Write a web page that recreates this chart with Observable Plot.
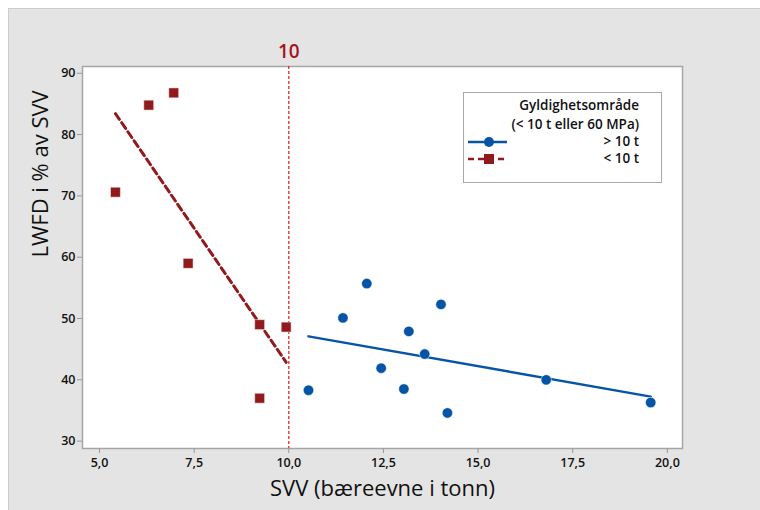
<!DOCTYPE html>
<html><head><meta charset="utf-8">
<script src="https://cdn.jsdelivr.net/npm/d3@7"></script>
<script src="https://cdn.jsdelivr.net/npm/@observablehq/plot@0.6"></script>
<style>
body{margin:0;background:#fff;font-family:"Open Sans",sans-serif;}
#bg{position:absolute;left:8px;top:8px;width:752px;height:502px;background:#e4e4e4;border-left:1px solid #cdcdcd;border-top:1px solid #cdcdcd;box-sizing:border-box;}
#chart{position:absolute;left:0;top:0;}
#legend{position:absolute;left:463px;top:92px;}
</style></head><body>
<div id="bg"></div><div id="chart"></div><div id="legend"></div>
<script>
// < 10 t series
const lowX = [5.42, 6.30, 6.96, 7.34, 9.23, 9.93, 9.23];
const lowY = [70.6, 84.8, 86.8, 59.0, 49.0, 48.6, 37.0];
// > 10 t series
const highX = [10.52, 11.43, 12.06, 12.44, 13.04, 13.17, 13.59, 14.02, 14.19, 16.80, 19.56];
const highY = [38.3, 50.1, 55.7, 41.9, 38.5, 47.9, 44.2, 52.3, 34.6, 40.0, 36.3];
const xTicks = [5, 7.5, 10, 12.5, 15, 17.5, 20];
const yTicks = [30, 40, 50, 60, 70, 80, 90];
const threshold = [10];
const legendTitle = ["Gyldighetsområde", "(< 10 t eller 60 MPa)"];
const legendLabels = ["> 10 t", "< 10 t"];
const xLabel = "SVV (bæreevne i tonn)";
const yLabel = "LWFD i % av SVV";

const blue = "#0654a6", red = "#911a1c", refRed = "#e3141c";
const low = lowX.map((x, i) => ({x, y: lowY[i]}));
const high = highX.map((x, i) => ({x, y: highY[i]}));
const fmt = d => d3.format(".1f")(d).replace(".", ",");

const chart = Plot.plot({
  width: 760, height: 510,
  marginLeft: 82, marginRight: 78, marginTop: 66, marginBottom: 62,
  style: {background: "transparent", fontFamily: "'Open Sans', sans-serif", fontSize: "13px", color: "#000"},
  x: {domain: [4.55, 20.4], label: null},
  y: {domain: [28.8, 91.1], label: null},
  marks: [
    Plot.frame({fill: "white", stroke: "#a6a6a6", strokeWidth: 1.5}),
    Plot.axisX({ticks: xTicks, tickFormat: fmt, stroke: "#999", tickSize: 5, tickPadding: 5, label: null, fill: "#111", fontWeight: 600, fontSize: 12.5}),
    Plot.axisY({ticks: yTicks, stroke: "#999", tickSize: 5, tickPadding: 2, label: null, fill: "#111", fontWeight: 600, fontSize: 12.5}),
    Plot.ruleX(threshold, {stroke: refRed, strokeWidth: 1.2, strokeDasharray: "3,2"}),
    Plot.text(threshold, {x: d => d, frameAnchor: "top", dy: -22, text: d => String(d), fill: "#a8141d", fontSize: 19, fontWeight: 600}),
    Plot.linearRegressionY(low, {x: "x", y: "y", ci: 0, stroke: red, strokeWidth: 3, strokeDasharray: "7,4"}),
    Plot.linearRegressionY(high, {x: "x", y: "y", ci: 0, stroke: blue, strokeWidth: 2.5}),
    Plot.dot(low, {x: "x", y: "y", symbol: "square", r: 5.6, fill: red, stroke: "white", strokeWidth: 0.5}),
    Plot.dot(high, {x: "x", y: "y", symbol: "circle", r: 5.2, fill: blue, stroke: "white", strokeWidth: 0.5}),
    Plot.text([xLabel], {frameAnchor: "bottom", dy: 47, text: d => d, fontSize: 22, fill: "#111"}),
    Plot.text([yLabel], {frameAnchor: "left", dx: -42, rotate: -90, text: d => d, fontSize: 22, fill: "#111"})
  ]
});
document.getElementById("chart").appendChild(chart);

// legend
const W = 199, H = 91;
const lg = d3.select("#legend").append("svg").attr("width", W).attr("height", H)
  .style("font-family", "'Open Sans', sans-serif").style("font-size", "13.5px");
lg.append("rect").attr("x", 0.5).attr("y", 0.5).attr("width", W - 1).attr("height", H - 1)
  .attr("fill", "white").attr("stroke", "#a8a8a8");
legendTitle.forEach((t, i) => lg.append("text").attr("x", 176).attr("y", 14 + i * 19)
  .attr("text-anchor", "end").attr("dominant-baseline", "middle").attr("fill", "#111")
  .attr("font-weight", 600).text(t));
const rows = [{c: blue, dash: null, sym: "circle"}, {c: red, dash: "6,4", sym: "square"}];
rows.forEach((r, i) => {
  const y = 50 + i * 17;
  lg.append("line").attr("x1", 5).attr("x2", 44).attr("y1", y).attr("y2", y)
    .attr("stroke", r.c).attr("stroke-width", 2.5).attr("stroke-dasharray", r.dash);
  if (r.sym === "circle") lg.append("circle").attr("cx", 26).attr("cy", y).attr("r", 5).attr("fill", r.c);
  else lg.append("rect").attr("x", 21).attr("y", y - 5).attr("width", 10).attr("height", 10).attr("fill", r.c);
  lg.append("text").attr("x", 176).attr("y", y).attr("text-anchor", "end")
    .attr("dominant-baseline", "middle").attr("fill", "#111").attr("font-weight", 600).text(legendLabels[i]);
});
</script>
</body></html>
